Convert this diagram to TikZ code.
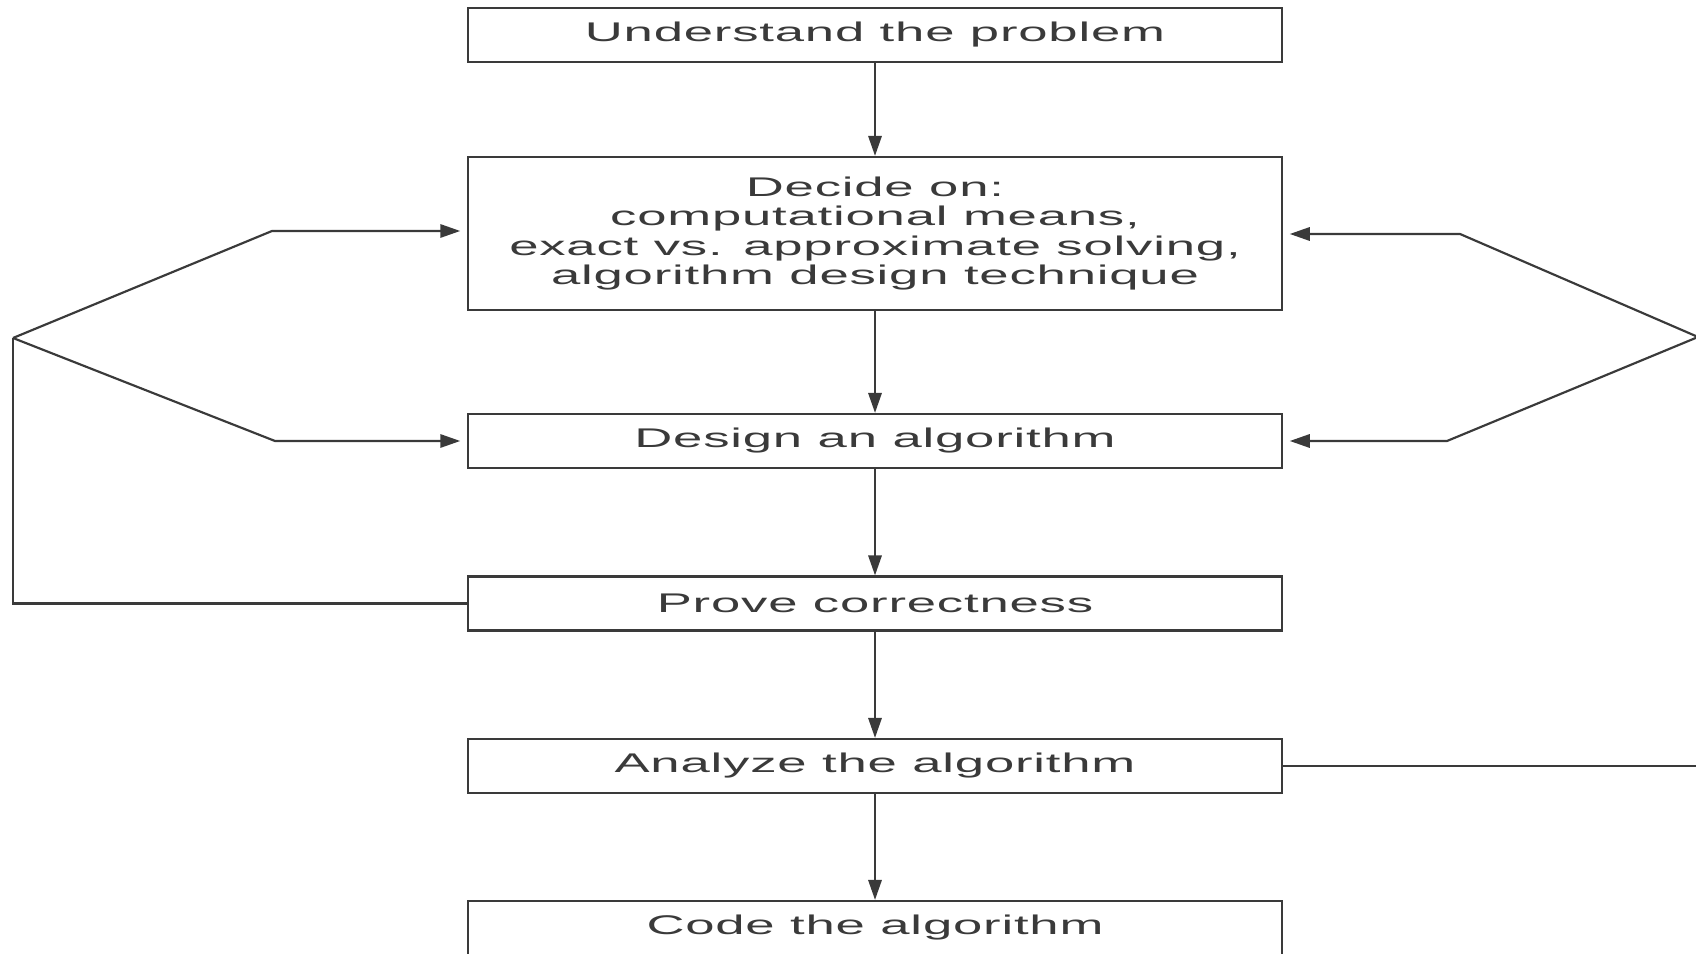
\documentclass[tikz,border=0pt]{standalone}
\usepackage{fontspec}
\newfontfamily\boxfont[FakeStretch=1.95,LetterSpace=3]{Liberation Sans}
\usetikzlibrary{arrows.meta}
\definecolor{inkgray}{HTML}{3A3A3A}
\begin{document}
\begin{tikzpicture}[x=0.3pt, y=-0.3pt, line width=0.65pt, color=inkgray,
  stage/.style = {shape=rectangle, draw, align=center, inner sep=0pt,
    minimum width=244.2pt, minimum height=16.2pt,
    font=\boxfont\fontsize{8.1}{8.8}\selectfont},
  flow/.style = {-{Triangle[length=6pt,width=4pt]}},
  side/.style = {flow, shorten >=2pt}]
  \useasboundingbox (0,0) rectangle (1696,954);
  \node[stage] (understand) at (875,35) {Understand the problem};
  \node[stage, minimum height=45.9pt] (decide) at (875,233.5)
    {Decide on:\\computational means,\\exact vs. approximate solving,\\algorithm design technique};
  \node[stage] (design) at (875,441) {Design an algorithm};
  \node[stage] (prove) at (875,603.5) {Prove correctness};
  \node[stage] (analyze) at (875,766) {Analyze the algorithm};
  \node[stage] (code) at (875,928) {Code the algorithm};
  \draw[flow] (understand) -- (decide);
  \draw[flow] (decide) -- (design);
  \draw[flow] (design) -- (prove);
  \draw[flow] (prove) -- (analyze);
  \draw[flow] (analyze) -- (code);
  \coordinate (lv) at (13,338);
  \coordinate (lk1) at (272,231);
  \coordinate (lk2) at (275,441);
  \draw (prove.west) -| (lv);
  \draw[side] (lv) -- (lk1) -- (lk1 -| decide.west);
  \draw[side] (lv) -- (lk2) -- (design.west);
  \coordinate (rv) at (1698,337);
  \coordinate (rk1) at (1460,234);
  \coordinate (rk2) at (1447,441);
  \draw (analyze.east) -| (rv);
  \draw[side] (rv) -- (rk1) -- (rk1 -| decide.east);
  \draw[side] (rv) -- (rk2) -- (design.east);
\end{tikzpicture}
\end{document}
